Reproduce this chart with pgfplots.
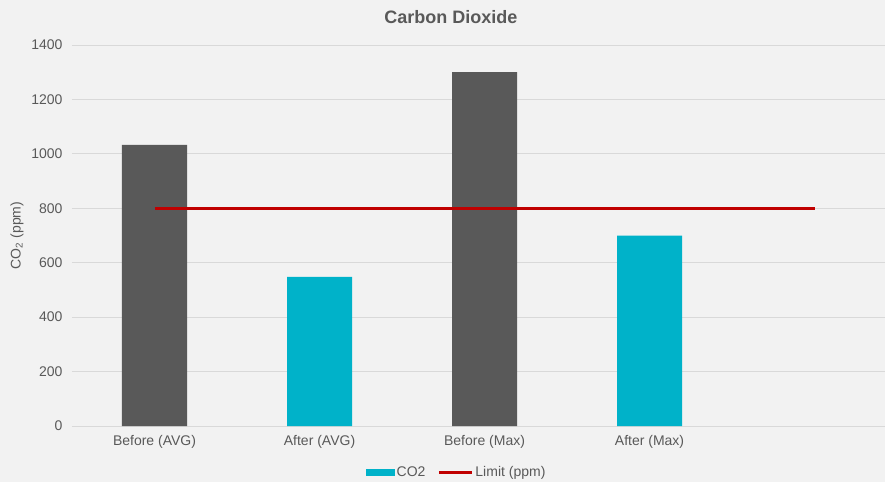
\documentclass[border=0pt]{standalone}
\usepackage{pgfplots}
\pgfplotsset{compat=1.18}
\usepackage{fontspec}
\setmainfont{Liberation Sans}
\definecolor{bg}{HTML}{F2F2F2}
\definecolor{txt}{HTML}{595959}
\definecolor{darkbar}{HTML}{595959}
\definecolor{cyanbar}{HTML}{00B2C9}
\definecolor{limitred}{HTML}{C00000}
\definecolor{gridc}{HTML}{D9D9D9}
\begin{document}
\begin{tikzpicture}
\path[fill=bg, use as bounding box] (-72pt,-56pt) rectangle (813pt,426pt);
\begin{axis}[
  at={(0,0)}, anchor=south west,
  scale only axis,
  width=813pt, height=381pt,
  xmin=-0.5, xmax=4.427,
  ymin=0, ymax=1400,
  ytick={0,200,...,1400},
  xtick={0,1,2,3},
  xticklabels={Before (AVG), After (AVG), Before (Max), After (Max)},
  ymajorgrids,
  grid style={gridc, line width=0.8pt},
  axis line style={draw=none},
  major tick length=0pt,
  tick style={draw=none},
  /pgf/number format/1000 sep={},
  /pgf/number format/assume math mode=true,
  tick label style={font=\fontsize{14}{16}\selectfont, text=txt},
  yticklabel style={xshift=-6pt},
  xticklabel style={yshift=-6pt},
  ylabel={CO\textsubscript{2} (ppm)},
  ylabel style={font=\fontsize{14}{16}\selectfont, text=txt,
    at={(axis description cs:-0.0677,0.5)}, anchor=center},
  title={Carbon Dioxide},
  title style={font=\bfseries\fontsize{18}{21}\selectfont, text=txt,
    at={(axis description cs:0.466,1.058)}, anchor=center, yshift=0pt},
  legend style={at={(axis description cs:0.473,-0.121)}, anchor=center,
    draw=none, fill=none, legend columns=-1,
    font=\fontsize{14}{16}\selectfont, text=txt,
    /tikz/every even column/.append style={column sep=10pt},
    inner sep=0pt},
  ybar, bar width=0.394, bar shift=0pt,
]
\addplot[draw=none, fill=darkbar, forget plot] coordinates {(0,1033) (2,1300)};
\addplot[draw=none, fill=cyanbar,
  legend image code/.code={\fill[cyanbar] (0pt,-3.5pt) rectangle (29pt,3.5pt);}]
  coordinates {(1,548) (3,700)};
\addplot[sharp plot, limitred, line width=3pt, mark=none,
  legend image code/.code={\draw[limitred, line width=3pt] (0pt,0pt) -- (33pt,0pt);}]
  coordinates {(0,800) (4,800)};
\legend{CO2, Limit (ppm)}
\end{axis}
\end{tikzpicture}
\end{document}
